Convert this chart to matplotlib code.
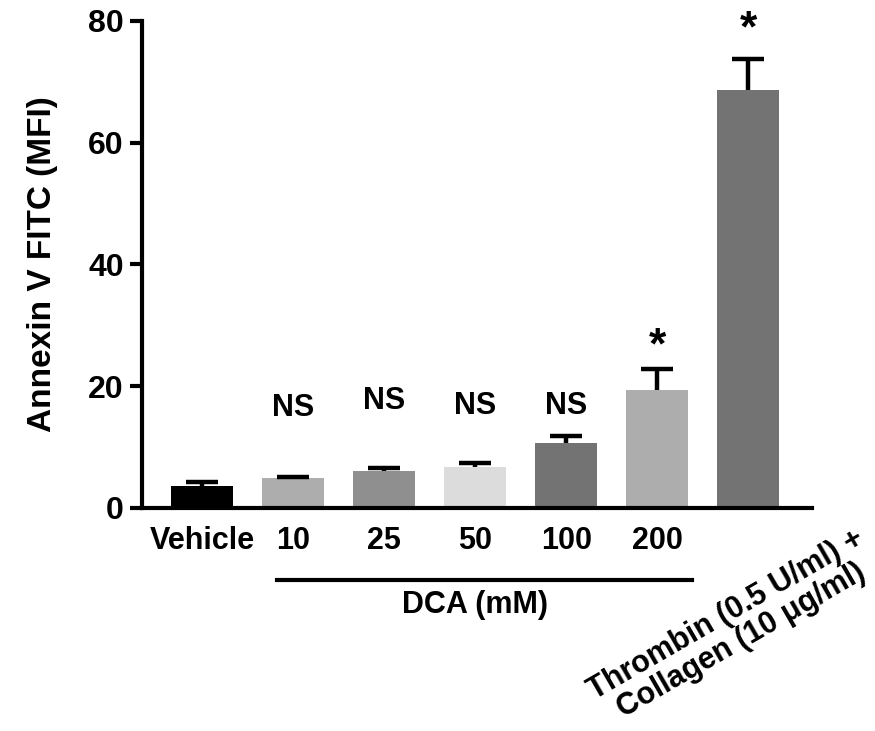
import matplotlib
matplotlib.use("Agg")
import matplotlib.pyplot as plt

# data
groups = ["Vehicle", "10", "25", "50", "100", "200", ""]
means = [3.6, 4.9, 6.1, 6.7, 10.7, 19.4, 68.6]
errors = [0.7, 0.2, 0.4, 0.7, 1.1, 3.5, 5.2]
colors = ["#000000", "#adadad", "#8f8f8f", "#dcdcdc", "#737373", "#adadad", "#737373"]
marks = ["", "NS", "NS", "NS", "NS", "*", "*"]
mark_y = [0, 16.4, 17.6, 16.8, 16.8, 26.4, 78.6]
pos_label = ["Thrombin (0.5 U/ml) +", "Collagen (10 \u03bcg/ml)"]

plt.rcParams['font.family'] = ['Liberation Sans', 'DejaVu Sans']
plt.rcParams['font.weight'] = 'bold'

fig = plt.figure(figsize=(8.75, 7.31), dpi=100)
ax = fig.add_axes([0.1623, 0.3051, 0.7657, 0.6662])

x = list(range(len(groups)))
ax.bar(x, means, width=0.68, color=colors, zorder=2)
eb = ax.errorbar(x, means, yerr=[[0] * len(errors), errors], fmt="none",
                 ecolor="black", elinewidth=3.2, capsize=11.2, capthick=3.2, zorder=3)
# only the upper cap is drawn in the original
eb[1][0].set_visible(False)

for xi, m, my in zip(x, marks, mark_y):
    if m == "NS":
        ax.text(xi, my, m, ha="center", va="center", fontsize=22, fontweight="bold")
    elif m:
        ax.text(xi, my, m, ha="center", va="center", fontsize=32, fontweight="bold")

ax.set_xlim(-0.659, 6.70)
ax.set_ylim(0, 80)
ax.set_yticks([0, 20, 40, 60, 80])
ax.set_xticks(x)
ax.set_xticklabels(groups)
ax.tick_params(axis="x", length=0, pad=13, labelsize=22)
ax.tick_params(axis="y", length=9, width=3, labelsize=23, pad=4)
for lab in ax.get_xticklabels() + ax.get_yticklabels():
    lab.set_fontweight("bold")

ax.spines["top"].set_visible(False)
ax.spines["right"].set_visible(False)
ax.spines["left"].set_linewidth(3)
ax.spines["bottom"].set_linewidth(3)

ax.set_ylabel("Annexin V FITC (MFI)", fontsize=24, fontweight="bold", labelpad=22)

# DCA group bracket below the axis
ax.plot([0.82, 5.38], [-11.8, -11.8], color="black", lw=3, clip_on=False)
ax.text(3.0, -15.9, "DCA (mM)", ha="center", va="center", fontsize=22, fontweight="bold")

# rotated label for the positive control, one text per line
ax.text(5.76, -17.6, pos_label[0], ha="center", va="center",
        rotation=30, rotation_mode="anchor", fontsize=22, fontweight="bold")
ax.text(5.92, -21.8, pos_label[1], ha="center", va="center",
        rotation=30, rotation_mode="anchor", fontsize=22, fontweight="bold")

fig.savefig("out.png", dpi=100)
